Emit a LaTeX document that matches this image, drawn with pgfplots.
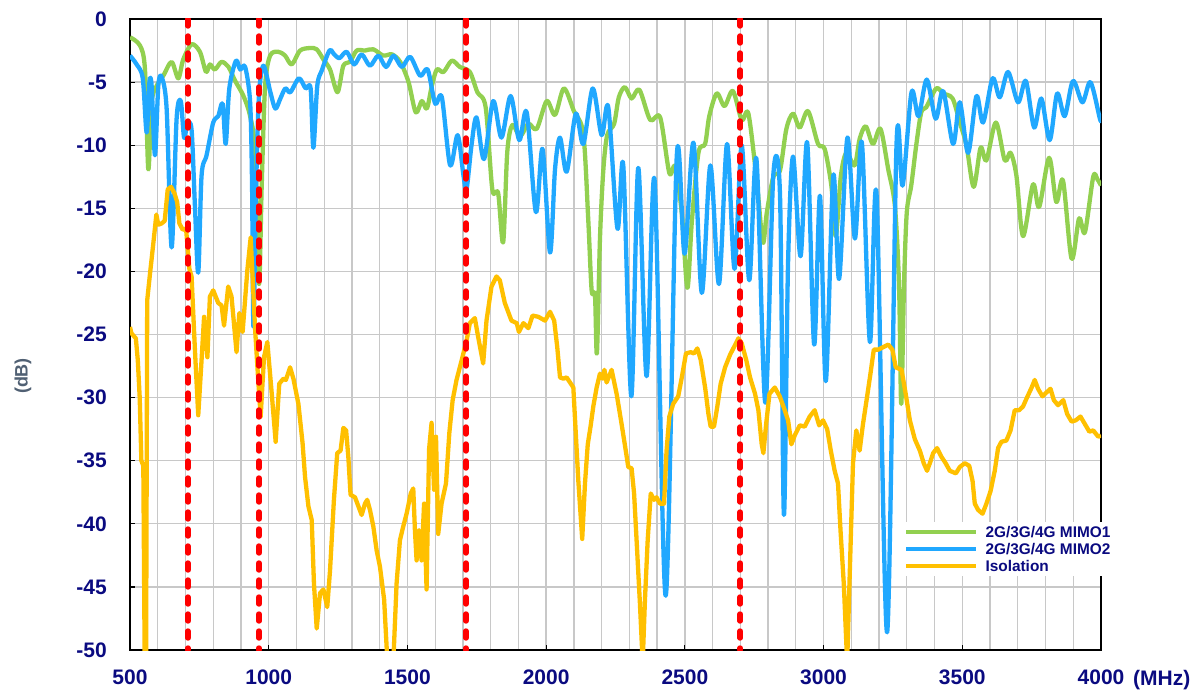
\documentclass[border=0pt]{standalone}
\usepackage{pgfplots}
\pgfplotsset{compat=1.18}
\usepackage{fontspec}
\setmainfont{Liberation Sans}
\definecolor{navy}{RGB}{10,10,128}
\definecolor{cgreen}{RGB}{146,208,80}
\definecolor{cblue}{RGB}{32,168,255}
\definecolor{cyellow}{RGB}{255,192,0}
\definecolor{gridc}{RGB}{200,200,200}
\definecolor{slate}{RGB}{80,96,115}
\begin{document}
\begin{tikzpicture}
\useasboundingbox (-130pt,-39pt) rectangle (1068pt,650pt);
\begin{axis}[
 at={(0,0)}, anchor=south west, scale only axis,
 width=971pt, height=631pt,
 xmin=500, xmax=4000, ymin=-50, ymax=0,
 xtick={500,1000,...,4000}, xticklabels={500,1000,1500,2000,2500,3000,3500,4000},
 minor xtick={600,700,...,3900},
 ytick={-50,-45,...,0}, yticklabels={-50,-45,-40,-35,-30,-25,-20,-15,-10,-5,0},
 grid=both, major grid style={gridc, line width=1.3pt}, minor grid style={gridc, line width=1.3pt},
 axis line style={black, line width=1.6pt},
 tick style={black, line width=1.2pt}, major tick length=5pt, minor tick length=0pt,
 xtick pos=bottom, ytick pos=left, tick align=inside,
 ticklabel style={font=\fontsize{21}{24}\selectfont\bfseries, text=navy, inner sep=0pt},
 xticklabel style={yshift=-20pt},
 yticklabel style={xshift=-23pt},
 legend style={draw=none, fill=white, at={(0.7858,0.2029)}, anchor=north west,
   font=\fontsize{15.4}{17}\selectfont\bfseries, text=navy, inner xsep=11pt, inner ysep=1.5pt,
   row sep=0pt, column sep=7pt, nodes={inner sep=0pt, text height=14pt, text depth=3pt, anchor=west}},
 legend cell align=left,
 legend image code/.code={\draw[#1, line width=4.3pt] (0pt,0pt) -- (70pt,0pt);},
 every axis plot/.append style={line width=4.3pt, line join=round},
]
\addplot[cgreen, smooth, tension=0.5] coordinates {
(500,-1.45)(536,-2.1)(554,-4.0)(566,-11.9)(578,-6.6)(596,-5.3)(620,-4.5)(650,-3.4)(674,-4.7)(692,-3.2)
(722,-2.0)(752,-2.6)(774,-4.2)(788,-3.6)(806,-4.0)(830,-3.4)(855,-3.8)(879,-4.9)(909,-6.1)(933,-7.7)
(951,-10.6)(965,-21.0)(975,-13.0)(987,-5.3)(1005,-2.9)(1035,-2.6)(1059,-2.9)(1083,-3.6)(1113,-2.5)(1149,-2.3)
(1173,-2.4)(1197,-3.2)(1221,-4.0)(1248,-5.8)(1269,-3.7)(1293,-3.4)(1317,-2.5)(1347,-2.5)(1377,-2.4)(1413,-2.9)
(1444,-2.8)(1474,-3.4)(1504,-5.0)(1530,-7.4)(1552,-6.5)(1570,-7.1)(1588,-5.3)(1606,-4.0)(1630,-4.2)(1660,-3.3)
(1689,-3.8)(1725,-4.2)(1752,-5.8)(1782,-7.0)(1806,-13.5)(1827,-13.8)(1845,-17.7)(1860,-10.5)(1878,-8.4)(1906,-9.3)
(1936,-8.3)(1966,-8.7)(2002,-6.5)(2032,-7.6)(2064,-5.5)(2100,-7.3)(2134,-9.1)(2152,-16.0)(2164,-21.5)(2176,-21.9)
(2183,-26.5)(2194,-17.4)(2206,-12.0)(2220,-9.2)(2245,-8.3)(2262,-6.2)(2284,-5.4)(2308,-6.3)(2336,-5.6)(2375,-8.0)
(2411,-7.8)(2444,-12.2)(2465,-11.7)(2489,-15.4)(2509,-21.3)(2525,-16.1)(2549,-10.6)(2573,-9.9)(2588,-7.7)(2615,-5.9)
(2643,-6.9)(2673,-5.7)(2705,-8.0)(2729,-7.5)(2759,-12.8)(2781,-17.7)(2795,-15.4)(2819,-12.5)(2843,-12.0)(2866,-8.7)
(2890,-7.5)(2914,-8.6)(2944,-7.3)(2980,-9.9)(3004,-10.3)(3028,-13.2)(3044,-17.2)(3062,-12.5)(3082,-10.6)(3112,-11.6)
(3130,-9.5)(3152,-8.5)(3178,-9.9)(3205,-8.7)(3233,-11.9)(3257,-14.8)(3272,-21.1)(3280,-30.5)(3290,-21.0)(3300,-15.3)
(3316,-13.2)(3334,-10.0)(3352,-7.4)(3370,-7.0)(3406,-5.5)(3431,-5.9)(3465,-6.3)(3491,-8.2)(3515,-10.0)(3541,-13.3)
(3566,-10.2)(3587,-11.2)(3621,-8.2)(3653,-11.2)(3674,-10.6)(3695,-12.4)(3719,-17.2)(3755,-13.1)(3777,-14.9)(3813,-11.0)
(3839,-14.5)(3863,-12.8)(3894,-19.0)(3921,-15.8)(3942,-16.9)(3972,-12.5)(3987,-12.7)(4000,-13.2)
};
\addlegendentry{2G/3G/4G MIMO1}
\addplot[cblue, smooth, tension=0.5] coordinates {
(500,-2.9)(524,-3.6)(546,-4.7)(560,-9.0)(570,-5.0)(578,-5.3)(590,-10.8)(602,-5.3)(614,-4.6)(632,-7.1)
(650,-18.1)(668,-7.9)(683,-6.5)(695,-9.4)(707,-8.3)(722,-8.8)(734,-14.8)(746,-20.1)(758,-12.4)(776,-10.8)
(800,-8.2)(818,-7.7)(834,-6.7)(845,-9.9)(858,-5.5)(882,-3.3)(897,-4.0)(915,-3.8)(933,-6.6)(940,-13.2)
(945,-24.4)(955,-13.0)(965,-6.0)(981,-3.7)(1006,-5.8)(1024,-7.1)(1042,-6.3)(1060,-5.5)(1078,-5.8)(1109,-4.7)
(1133,-5.5)(1151,-5.5)(1161,-10.2)(1175,-5.3)(1191,-4.1)(1219,-2.5)(1236,-2.8)(1255,-3.1)(1281,-2.6)(1308,-3.6)
(1335,-2.8)(1365,-3.7)(1395,-2.9)(1423,-3.8)(1450,-2.9)(1480,-3.8)(1510,-3.0)(1546,-4.5)(1573,-4.0)(1600,-6.7)
(1624,-6.2)(1654,-11.6)(1681,-9.2)(1702,-12.4)(1713,-13.5)(1731,-10.0)(1749,-7.8)(1776,-11.1)(1809,-6.5)(1839,-9.4)
(1872,-6.1)(1903,-9.6)(1930,-7.4)(1963,-15.3)(1987,-10.3)(2014,-18.5)(2032,-11.9)(2050,-9.4)(2074,-12.1)(2107,-7.5)
(2134,-9.9)(2168,-5.5)(2200,-9.2)(2224,-7.0)(2257,-16.6)(2278,-11.6)(2307,-29.9)(2332,-11.8)(2362,-28.3)(2391,-12.8)
(2431,-45.7)(2471,-10.8)(2499,-18.6)(2531,-9.8)(2561,-21.7)(2592,-11.6)(2623,-21.0)(2652,-9.9)(2679,-19.8)(2705,-10.0)
(2732,-20.7)(2758,-11.1)(2790,-30.4)(2819,-12.3)(2843,-14.0)(2857,-39.3)(2872,-19.3)(2890,-10.9)(2917,-18.8)(2941,-9.8)
(2966,-25.8)(2987,-14.0)(3008,-28.7)(3035,-12.4)(3056,-20.6)(3086,-9.4)(3113,-17.4)(3138,-9.8)(3167,-25.6)(3191,-13.9)
(3229,-48.6)(3263,-9.9)(3285,-13.2)(3317,-5.8)(3342,-7.7)(3372,-4.8)(3404,-7.9)(3431,-5.7)(3467,-9.9)(3491,-6.6)
(3521,-10.6)(3551,-6.1)(3575,-8.2)(3609,-4.7)(3635,-6.2)(3665,-4.2)(3701,-6.6)(3729,-4.9)(3759,-8.6)(3785,-6.3)
(3815,-9.6)(3842,-5.9)(3869,-7.7)(3899,-4.9)(3933,-6.6)(3962,-5.0)(3996,-7.9)(4000,-8.0)
};
\addlegendentry{2G/3G/4G MIMO2}
\addplot[cyellow] coordinates {
(500,-24.4)(505,-24.9)(521,-25.3)(528,-27.0)(535,-30.0)(541,-35.0)(548,-35.4)(553,-51)(558,-51)(562,-22.3)
(572,-20.2)(583,-18.0)(595,-15.5)(602,-16.3)(614,-16.2)(625,-16.0)(636,-13.5)(648,-13.3)(660,-13.8)(670,-14.5)
(678,-16.2)(690,-16.7)(702,-16.6)(714,-19.8)(722,-20.4)(734,-26.2)(746,-31.4)(758,-27.0)(767,-23.6)(779,-26.8)
(788,-22.0)(800,-21.5)(818,-22.5)(830,-22.7)(839,-24.3)(854,-21.2)(866,-22.0)(884,-26.4)(894,-23.3)(906,-24.8)
(923,-19.9)(935,-17.3)(951,-24.6)(963,-28.9)(971,-31.5)(983,-26.8)(995,-25.6)(1011,-29.7)(1025,-33.5)(1038,-28.9)
(1053,-28.5)(1062,-28.6)(1077,-27.6)(1089,-28.5)(1107,-30.5)(1122,-33.6)(1131,-36.3)(1143,-38.6)(1155,-39.7)(1163,-44.7)
(1173,-48.3)(1185,-45.5)(1197,-45.2)(1211,-46.6)(1221,-43.7)(1235,-38.1)(1247,-34.4)(1259,-34.2)(1269,-32.4)(1279,-32.6)
(1287,-34.7)(1295,-37.7)(1311,-37.9)(1323,-38.6)(1335,-39.3)(1347,-38.4)(1355,-38.1)(1365,-38.9)(1377,-40.2)(1389,-42.1)
(1401,-43.4)(1416,-46.0)(1428,-51)(1449,-51)(1461,-44.7)(1473,-41.3)(1485,-40.2)(1497,-39.2)(1512,-37.6)(1521,-37.2)
(1527,-40.5)(1533,-42.9)(1542,-40.5)(1551,-42.9)(1560,-38.4)(1569,-45.2)(1578,-34.1)(1587,-32.0)(1596,-37.3)(1603,-33.1)
(1611,-40.8)(1623,-38.4)(1639,-36.8)(1651,-32.8)(1663,-30.2)(1677,-28.6)(1696,-27.0)(1714,-25.4)(1725,-24.1)(1743,-23.7)
(1755,-25.2)(1773,-27.3)(1785,-23.9)(1803,-21.2)(1821,-20.4)(1833,-20.7)(1851,-22.5)(1875,-23.9)(1894,-24.1)(1902,-24.8)
(1918,-24.1)(1936,-24.5)(1951,-23.5)(1972,-23.6)(1996,-23.9)(2014,-23.2)(2029,-23.9)(2040,-26.0)(2050,-28.4)(2062,-28.5)
(2074,-28.4)(2086,-28.8)(2098,-29.2)(2107,-32.9)(2116,-36.6)(2130,-41.2)(2140,-36.8)(2150,-33.7)(2160,-32.3)(2170,-30.7)
(2182,-29.2)(2194,-28.1)(2204,-28.5)(2210,-27.8)(2218,-28.8)(2236,-27.8)(2254,-29.7)(2272,-32.1)(2287,-34.2)(2296,-35.5)
(2308,-35.6)(2317,-37.6)(2326,-41.3)(2338,-46.3)(2348,-51)(2356,-46.1)(2366,-41.3)(2377,-37.6)(2389,-38.1)(2398,-37.9)
(2410,-38.4)(2425,-38.4)(2434,-34.2)(2444,-31.5)(2458,-30.5)(2476,-29.9)(2489,-28.4)(2504,-26.5)(2521,-26.4)(2533,-26.5)
(2545,-26.1)(2557,-27.0)(2573,-29.2)(2585,-31.3)(2593,-32.3)(2605,-32.3)(2617,-30.7)(2629,-28.9)(2645,-27.6)(2663,-26.6)
(2677,-26.0)(2693,-25.3)(2705,-25.7)(2721,-27.0)(2735,-28.4)(2753,-29.7)(2765,-31.0)(2777,-33.7)(2783,-34.4)(2793,-32.1)
(2805,-29.7)(2824,-29.2)(2842,-29.9)(2860,-31.0)(2872,-31.8)(2884,-33.7)(2896,-33.0)(2914,-32.2)(2932,-32.3)(2950,-31.5)
(2968,-31.0)(2984,-32.2)(2998,-31.8)(3013,-32.5)(3026,-34.2)(3040,-35.8)(3052,-36.8)(3061,-40.5)(3073,-44.8)(3085,-51)
(3094,-44.2)(3106,-35.2)(3118,-32.6)(3130,-34.2)(3142,-32.1)(3157,-29.9)(3169,-28.1)(3181,-26.2)(3197,-26.2)(3215,-26.0)
(3233,-25.8)(3248,-26.2)(3260,-27.6)(3281,-27.8)(3296,-29.7)(3311,-31.8)(3329,-33.3)(3347,-34.2)(3361,-35.2)(3373,-35.8)
(3383,-35.2)(3395,-34.4)(3409,-34.0)(3425,-34.7)(3440,-35.2)(3455,-35.8)(3477,-36.0)(3491,-35.5)(3509,-35.2)(3525,-35.4)
(3537,-36.6)(3545,-38.4)(3557,-38.9)(3573,-39.2)(3587,-38.4)(3602,-37.4)(3617,-35.8)(3629,-34.0)(3641,-33.5)(3659,-33.4)
(3674,-32.6)(3689,-31.0)(3705,-31.0)(3719,-30.7)(3731,-30.1)(3750,-29.2)(3761,-28.6)(3773,-29.3)(3789,-29.9)(3803,-29.6)
(3818,-29.3)(3830,-30.2)(3845,-30.6)(3864,-30.2)(3878,-31.3)(3894,-31.9)(3909,-31.8)(3926,-31.5)(3942,-32.1)(3958,-32.7)
(3972,-32.6)(3990,-33.1)(4000,-33.0)
};
\addlegendentry{Isolation}
\addplot[red, line width=5.4pt, dash pattern=on 7pt off 10pt, line cap=round, forget plot] coordinates {(709,0) (709,-50)};
\addplot[red, line width=5.4pt, dash pattern=on 7pt off 10pt, line cap=round, forget plot] coordinates {(965,0) (965,-50)};
\addplot[red, line width=5.4pt, dash pattern=on 7pt off 10pt, line cap=round, forget plot] coordinates {(1711,0) (1711,-50)};
\addplot[red, line width=5.4pt, dash pattern=on 7pt off 10pt, line cap=round, forget plot] coordinates {(2699,0) (2699,-50)};
\end{axis}
\node[rotate=90, font=\fontsize{18}{20}\selectfont\bfseries, text=slate] at (-107pt,274pt) {(dB)};
\node[anchor=north west, inner sep=0pt, font=\fontsize{21}{24}\selectfont\bfseries, text=navy] at (1003pt,-20pt) {(MHz)};
\end{tikzpicture}
\end{document}
